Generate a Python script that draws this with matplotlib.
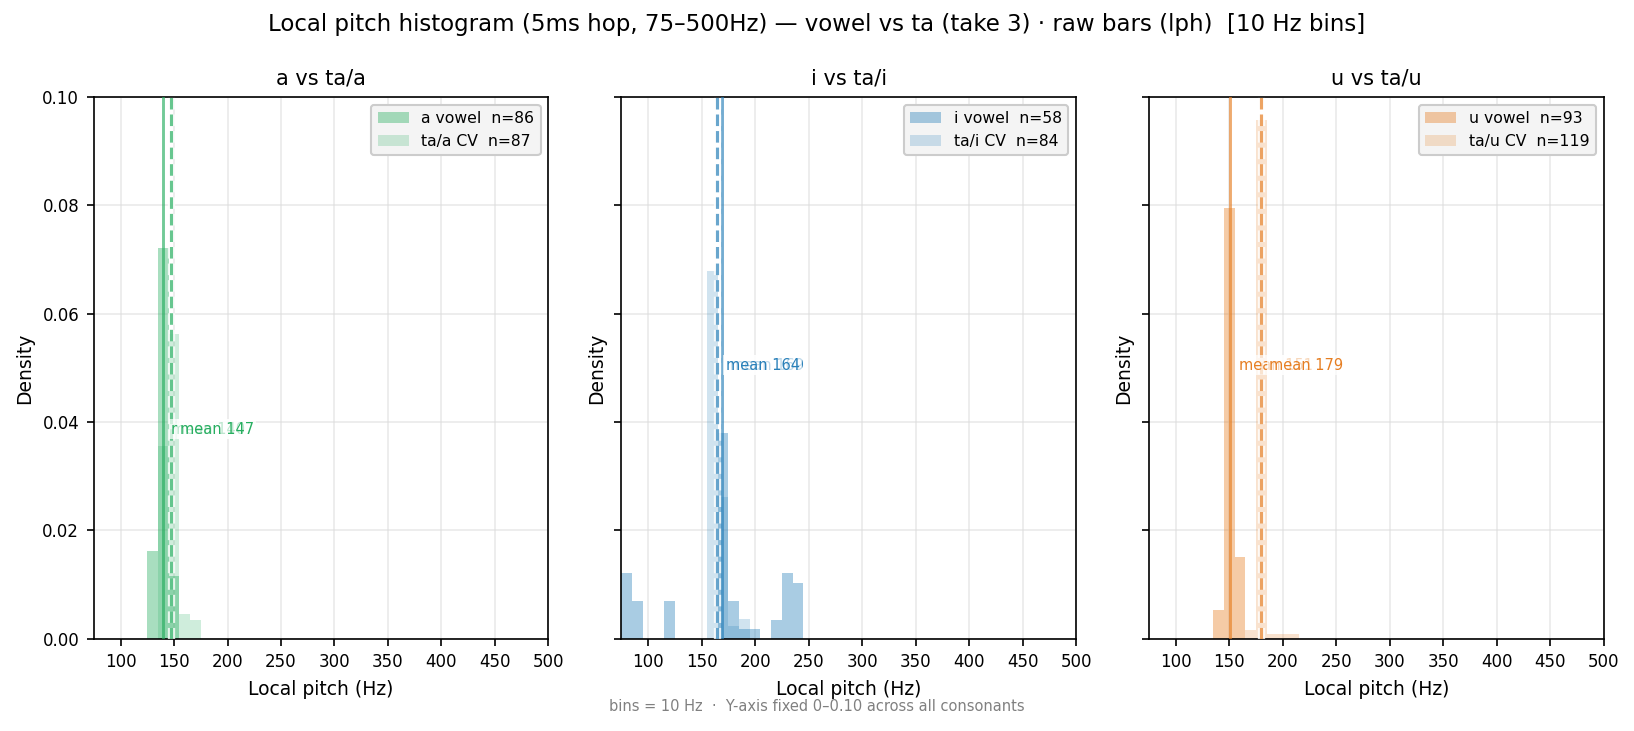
import numpy as np
import matplotlib
matplotlib.use("Agg")
import matplotlib.pyplot as plt
import matplotlib.patheffects as pe

# bin edges (10 Hz bins over 75-500 Hz)
bin_edges = np.arange(75, 505, 10)

panels = ["a", "i", "u"]
titles = ["a vs ta/a", "i vs ta/i", "u vs ta/u"]
colors = ["#27ae60", "#2980b9", "#e67e22"]

# left edges of non-empty bins and their counts
a_vowel_bins = [125, 135, 145]
a_vowel_counts = [14, 62, 10]
a_cv_bins = [135, 145, 155, 165]
a_cv_counts = [31, 49, 4, 3]

i_vowel_bins = [75, 85, 115, 165, 175, 185, 195, 215, 225, 235]
i_vowel_counts = [7, 4, 4, 22, 4, 1, 1, 2, 7, 6]
i_cv_bins = [155, 165, 175, 185]
i_cv_counts = [57, 22, 2, 3]

u_vowel_bins = [135, 145, 155]
u_vowel_counts = [5, 74, 14]
u_cv_bins = [165, 175, 185, 195, 205]
u_cv_counts = [2, 114, 1, 1, 1]

vowel_means = [139.5, 168.9, 150.9]
cv_means = [147.2, 164.4, 179.3]

vowel_data = [(a_vowel_bins, a_vowel_counts), (i_vowel_bins, i_vowel_counts), (u_vowel_bins, u_vowel_counts)]
cv_data = [(a_cv_bins, a_cv_counts), (i_cv_bins, i_cv_counts), (u_cv_bins, u_cv_counts)]

# layout only
label_y = [0.0387, 0.0505, 0.0505]

fig, axes = plt.subplots(1, 3, figsize=(1634 / 150, 731 / 150), dpi=150, sharey=True)
fig.subplots_adjust(left=0.0574, right=0.9814, bottom=0.1261, top=0.8674, wspace=0.1605)

for k, ax in enumerate(axes):
    v = panels[k]
    c = colors[k]
    vb, vc = vowel_data[k]
    cb, cc = cv_data[k]
    ax.hist(np.array(vb) + 5, bins=bin_edges, weights=vc, density=True,
            color=c, alpha=0.4, label=f"{v} vowel  n={sum(vc)}")
    ax.hist(np.array(cb) + 5, bins=bin_edges, weights=cc, density=True,
            color=c, alpha=0.22, label=f"ta/{v} CV  n={sum(cc)}")
    ax.axvline(vowel_means[k], color=c, lw=1.4, alpha=0.65, zorder=3)
    ax.axvline(cv_means[k], color=c, lw=1.5, alpha=0.7, ls="--", zorder=3,
               path_effects=[pe.withStroke(linewidth=3.5, foreground="white", alpha=0.8)])
    for m in (vowel_means[k], cv_means[k]):
        ax.text(m + 8, label_y[k], f"mean {m:.0f}", color=c, fontsize=7, va="center", ha="left",
                zorder=4, bbox=dict(boxstyle="square,pad=0.15", fc="white", ec="none", alpha=0.7))
    ax.set_xlim(75, 500)
    ax.set_ylim(0, 0.10)
    ax.set_xticks(range(100, 501, 50))
    ax.grid(True, color="#dddddd", alpha=0.6, lw=0.8)
    ax.set_axisbelow(True)
    ax.tick_params(labelsize=8)
    ax.set_xlabel("Local pitch (Hz)", fontsize=9)
    ax.set_ylabel("Density", fontsize=9)
    ax.set_title(titles[k], fontsize=10)
    ax.legend(loc="upper right", fontsize=7.5, facecolor="#f4f4f4", framealpha=1.0, edgecolor="#cccccc")
    ax.yaxis.set_tick_params(labelleft=(k == 0))

fig.text(0.5, 0.966, "Local pitch histogram (5ms hop, 75\u2013500Hz) \u2014 vowel vs ta (take 3) \u00b7 raw bars (lph)  [10 Hz bins]",
         ha="center", va="center", fontsize=11)
fig.text(0.5, 0.034, "bins = 10 Hz  \u00b7  Y-axis fixed 0\u20130.10 across all consonants",
         ha="center", va="center", fontsize=7, color="gray")

fig.savefig("out.png", dpi=150)
